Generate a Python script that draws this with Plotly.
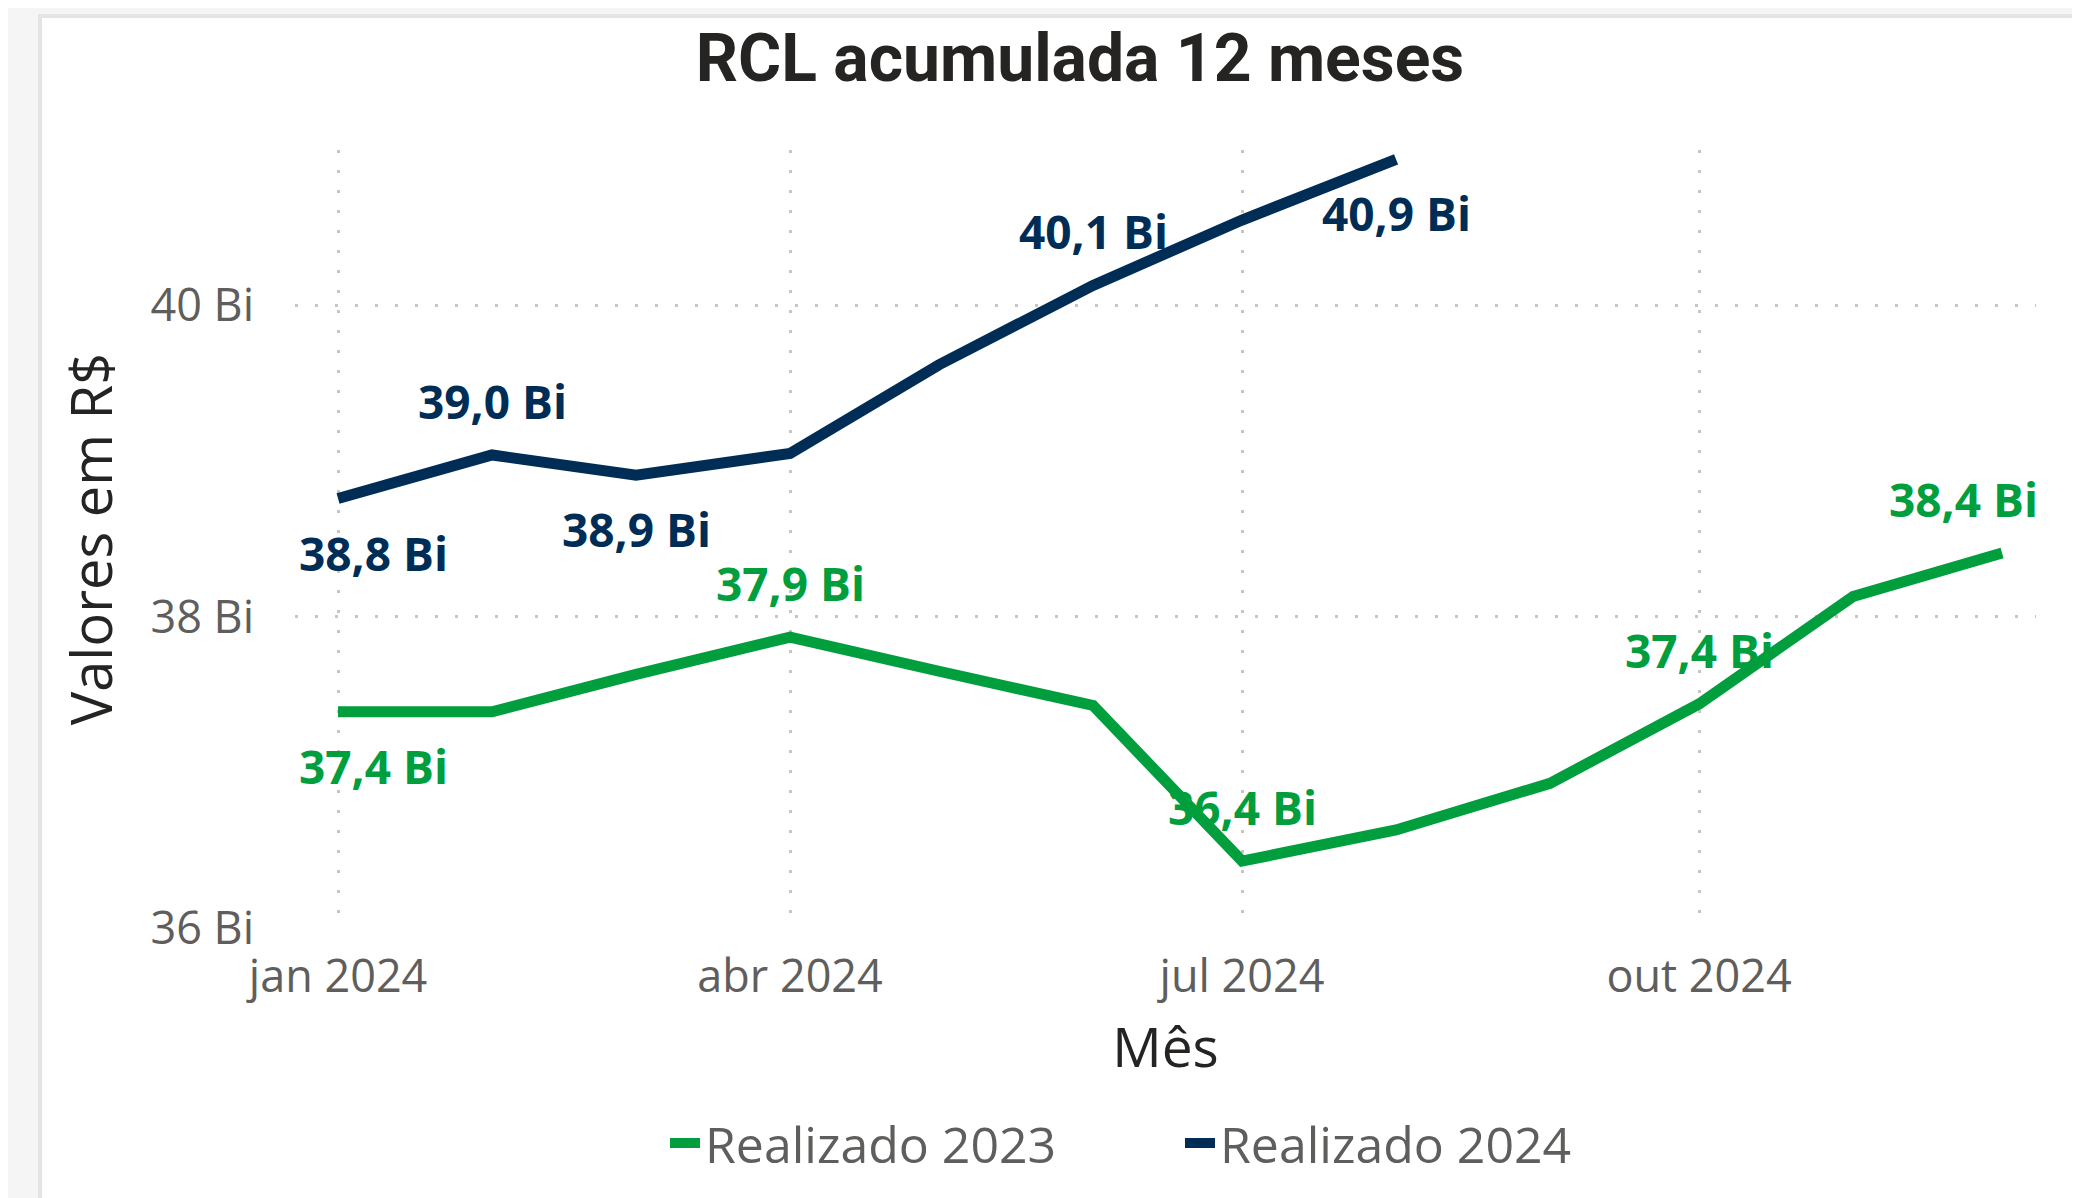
import plotly.graph_objects as go

# ---- data ----
months = ["2024-01-01", "2024-02-01", "2024-03-01", "2024-04-01", "2024-05-01", "2024-06-01",
          "2024-07-01", "2024-08-01", "2024-09-01", "2024-10-01", "2024-11-01", "2024-12-01"]
realizado_2023 = [37.39, 37.39, 37.63, 37.87, 37.65, 37.43, 36.43, 36.63, 36.93, 37.44, 38.13, 38.41]
realizado_2024 = [38.76, 39.04, 38.91, 39.05, 39.62, 40.13, 40.55, 40.94]
x_tickvals = ["2024-01-01", "2024-04-01", "2024-07-01", "2024-10-01"]
x_ticktext = ["jan 2024", "abr 2024", "jul 2024", "out 2024"]
y_tickvals = [36, 38, 40]
y_ticktext = ["36 Bi", "38 Bi", "40 Bi"]

# which points carry a data label, and where (style)
labels_2023 = {0: "below", 3: "above", 6: "above", 9: "above", 11: "above"}
labels_2024 = {0: "below", 1: "above", 2: "below", 5: "above", 7: "below"}

GREEN = "#009E3D"
BLUE = "#002D56"
GRID = "#C8C6C4"
TICK = "#605E5C"
DARK = "#252423"

# page has an 8px body margin, so the figure is 8px smaller than the window
W, H = 2072, 1190
ML, MR, MT, MB = 287, 44, 142, 270
PW, PH = W - ML - MR, H - MT - MB

fig = go.Figure()
fig.add_trace(go.Scatter(x=months, y=realizado_2023, mode="lines", name="Realizado 2023",
                         line=dict(color=GREEN, width=11), hoverinfo="skip"))
fig.add_trace(go.Scatter(x=months[:len(realizado_2024)], y=realizado_2024, mode="lines",
                         name="Realizado 2024", line=dict(color=BLUE, width=11), hoverinfo="skip"))

def fmt(v):
    return f"{v:.1f}".replace(".", ",") + " Bi"

def add_labels(values, spec, color):
    n_last = len(months) - 1
    for i, pos in spec.items():
        xanchor, xshift = "center", 0
        if i == 0:
            xanchor, xshift = "left", -41
        elif i == n_last:
            xanchor, xshift = "right", 38
        fig.add_annotation(x=months[i], y=values[i], text=fmt(values[i]), showarrow=False,
                           xanchor=xanchor, yanchor="middle", xshift=xshift,
                           yshift=54 if pos == "above" else -54,
                           font=dict(family="Open Sans", size=46, color=color, weight=700))

add_labels(realizado_2023, labels_2023, GREEN)
add_labels(realizado_2024, labels_2024, BLUE)

# card background
fig.add_shape(type="rect", xref="paper", yref="paper", layer="below",
              x0=(32 - ML) / PW, x1=(W + 20 - ML) / PW,
              y0=-(H + 20 - MT - PH) / PH, y1=1 + (MT - 8) / PH,
              fillcolor="white", line=dict(color="#E4E4E4", width=4))

fig.update_layout(
    width=W, height=H,
    margin=dict(l=ML, r=MR, t=MT, b=MB),
    paper_bgcolor="#F5F5F5", plot_bgcolor="rgba(0,0,0,0)",
    title=dict(text="RCL acumulada 12 meses", x=1072 / W, xanchor="center", xref="container",
               y=1 - 50 / H, yanchor="middle", yref="container",
               font=dict(family="Roboto", size=66, color=DARK, weight=700)),
    showlegend=True,
    legend=dict(orientation="h", xanchor="center", x=(1172 - ML) / PW, yanchor="middle",
                y=-(1135 - MT - PH) / PH, font=dict(family="Open Sans", size=50, color=TICK),
                bgcolor="rgba(0,0,0,0)", entrywidth=470, entrywidthmode="pixels"),
    xaxis=dict(type="date", range=["2023-12-23 08:00", "2024-12-07 20:00"],
               tickvals=x_tickvals, ticktext=x_ticktext, showline=False, zeroline=False,
               showgrid=True, gridcolor=GRID, gridwidth=3, griddash="3px,17px",
               ticklabelstandoff=18,
               tickfont=dict(family="Open Sans", size=45, color=TICK),
               title=dict(text="Mês", standoff=24, font=dict(family="Open Sans", size=55, color=DARK))),
    yaxis=dict(range=[36, 41], tickvals=y_tickvals, ticktext=y_ticktext, showline=False,
               zeroline=False, showgrid=True, gridcolor=GRID, gridwidth=3, griddash="3px,17px",
               ticklabelstandoff=40,
               tickfont=dict(family="Open Sans", size=45, color=TICK),
               title=dict(text="Valores em R$", standoff=19,
                          font=dict(family="Open Sans", size=56, color=DARK))),
)

fig.write_html("out.html")
